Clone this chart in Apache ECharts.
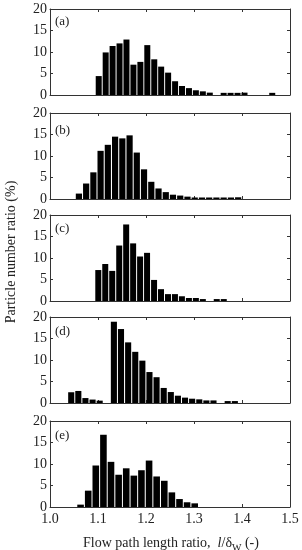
<!DOCTYPE html>
<html>
<head>
<meta charset="utf-8">
<script src="https://cdn.jsdelivr.net/npm/echarts@6/dist/echarts.min.js"></script>
<style>
html,body{margin:0;padding:0;background:#fff;}
#c{width:302px;height:550px;}
</style>
</head>
<body>
<div id="c"></div>
<script>
// ---- data (bin centres in l/δW and particle number ratio in %) ----
var xA = [1.1015,1.1160,1.1304,1.1449,1.1593,1.1738,1.1883,1.2027,1.2172,1.2316,1.2461,1.2606,1.2750,1.2895,1.3039,1.3184,1.3329,1.3618,1.3762,1.3907,1.4052,1.4630];
var yA = [4.4,9.9,11.4,12.0,12.9,7.05,7.7,11.6,8.3,6.6,5.2,3.2,2.1,1.6,1.1,0.85,0.55,0.5,0.5,0.5,0.55,0.5];

var xB = [1.0602,1.0753,1.0904,1.1054,1.1205,1.1356,1.1507,1.1658,1.1808,1.1959,1.2110,1.2261,1.2412,1.2562,1.2713,1.2864,1.3015,1.3166,1.3316,1.3467,1.3618,1.3769,1.3920];
var yB = [1.26,3.6,6.2,11.2,12.6,14.5,14.1,14.8,10.8,6.9,4.0,2.45,1.6,1.0,0.8,0.55,0.35,0.35,0.35,0.35,0.35,0.35,0.4];

var xC = [1.1006,1.1151,1.1296,1.1442,1.1587,1.1732,1.1877,1.2022,1.2168,1.2313,1.2458,1.2603,1.2748,1.2894,1.3039,1.3184,1.3474,1.3620];
var yC = [7.2,8.6,7.0,12.9,17.8,13.4,10.35,11.2,4.9,2.75,1.6,1.6,1.1,0.7,0.7,0.45,0.45,0.45];

var xD = [1.0442,1.0590,1.0738,1.0887,1.1035,1.1331,1.1479,1.1628,1.1776,1.1924,1.2072,1.2220,1.2369,1.2517,1.2665,1.2813,1.2961,1.3110,1.3258,1.3406,1.3702,1.3851];
var yD = [2.5,2.8,1.15,0.8,0.55,18.9,17.2,14.1,11.9,9.85,7.2,6.0,3.5,2.55,1.7,1.25,1.0,0.85,0.6,0.6,0.45,0.45];

var xE = [1.0637,1.0796,1.0954,1.1113,1.1271,1.1430,1.1588,1.1747,1.1905,1.2064,1.2222,1.2381,1.2539,1.2698,1.2856,1.3015];
var yE = [0.55,3.8,9.65,16.8,10.5,7.5,9.0,7.3,8.55,10.8,7.1,6.1,3.4,1.85,1.1,0.85];

var panelLabels = ['(a)','(b)','(c)','(d)','(e)'];
var yTicks = [0,5,10,15,20];
var xTickLabels = ['1.0','1.1','1.2','1.3','1.4','1.5'];

// ---- layout ----
var xs = [xA,xB,xC,xD,xE];
var ys = [yA,yB,yC,yD,yE];
var tops = [9,113,215,317,421];
var labelY = [23,132,230,333,437];
var barW = [6,6.2,6,6.1,6.6];
var PH = 86;
var FONT = '"Liberation Serif","Times New Roman",serif';
var AX = '#333';

var grids=[], xAxes=[], yAxes=[], series=[], graphics=[];
for (var i=0;i<5;i++){
  grids.push({left:50, width:240, top:tops[i], height:PH, show:false});
  var last = (i===4);
  xAxes.push({
    gridIndex:i, type:'value', min:1.0, max:1.5, interval:0.1, position:'bottom',
    axisLine:{show:true, onZero:false, lineStyle:{color:AX,width:1}},
    axisTick:{show:true, inside:true, length:3, lineStyle:{color:AX}},
    splitLine:{show:false},
    axisLabel:{show:last, color:'#222', fontFamily:FONT, fontSize:14, margin:5,
      formatter:function(v){ var idx=Math.round((v-1.0)/0.1); return xTickLabels[idx]; }}
  });
  xAxes.push({
    gridIndex:i, type:'value', min:1.0, max:1.5, interval:0.1, position:'top',
    axisLine:{show:true, onZero:false, lineStyle:{color:AX,width:1}},
    axisTick:{show:true, inside:true, length:3, lineStyle:{color:AX}},
    splitLine:{show:false}, axisLabel:{show:false}
  });
  yAxes.push({
    gridIndex:i, type:'value', min:0, max:20, interval:5, position:'left',
    axisLine:{show:true, onZero:false, lineStyle:{color:AX,width:1}},
    axisTick:{show:true, inside:true, length:3, lineStyle:{color:AX}},
    splitLine:{show:false},
    axisLabel:{color:'#222', fontFamily:FONT, fontSize:14, margin:3,
      formatter:function(v){ return String(yTicks[Math.round(v/5)]); }}
  });
  yAxes.push({
    gridIndex:i, type:'value', min:0, max:20, interval:5, position:'right',
    axisLine:{show:true, onZero:false, lineStyle:{color:AX,width:1}},
    axisTick:{show:true, inside:true, length:3, lineStyle:{color:AX}},
    splitLine:{show:false}, axisLabel:{show:false}
  });
  var d=[];
  for (var k=0;k<xs[i].length;k++) d.push([xs[i][k], ys[i][k]]);
  series.push({
    type:'bar', xAxisIndex:2*i, yAxisIndex:2*i, data:d, barWidth:barW[i],
    itemStyle:{color:'#000'}, silent:true, animation:false
  });
  graphics.push({type:'text', left:55, top:labelY[i]-8,
    style:{text:panelLabels[i], fill:'#222', font:'13px '+FONT}});
}

graphics.push({
  type:'text', x:11, y:252, rotation:Math.PI/2,
  style:{text:'Particle number ratio (%)', fill:'#222', font:'14px '+FONT,
    textAlign:'center', textVerticalAlign:'middle'}
});
graphics.push({
  type:'text', x:171, y:543,
  style:{
    text:'{n|Flow path length ratio,  }{i|l}{n|/δ}{s|W}{n| (-)}',
    textAlign:'center', textVerticalAlign:'middle',
    rich:{
      n:{fontFamily:FONT, fontSize:14, fill:'#222', color:'#222', verticalAlign:'middle', lineHeight:20},
      i:{fontFamily:FONT, fontSize:14, fontStyle:'italic', fill:'#222', color:'#222', verticalAlign:'middle', lineHeight:20},
      s:{fontFamily:FONT, fontSize:10, fill:'#222', color:'#222', verticalAlign:'bottom', lineHeight:11}
    }
  }
});

var chart = echarts.init(document.getElementById('c'), null, {renderer:'canvas'});
chart.setOption({
  animation:false,
  grid:grids, xAxis:xAxes, yAxis:yAxes, series:series, graphic:graphics
});
</script>
</body>
</html>
